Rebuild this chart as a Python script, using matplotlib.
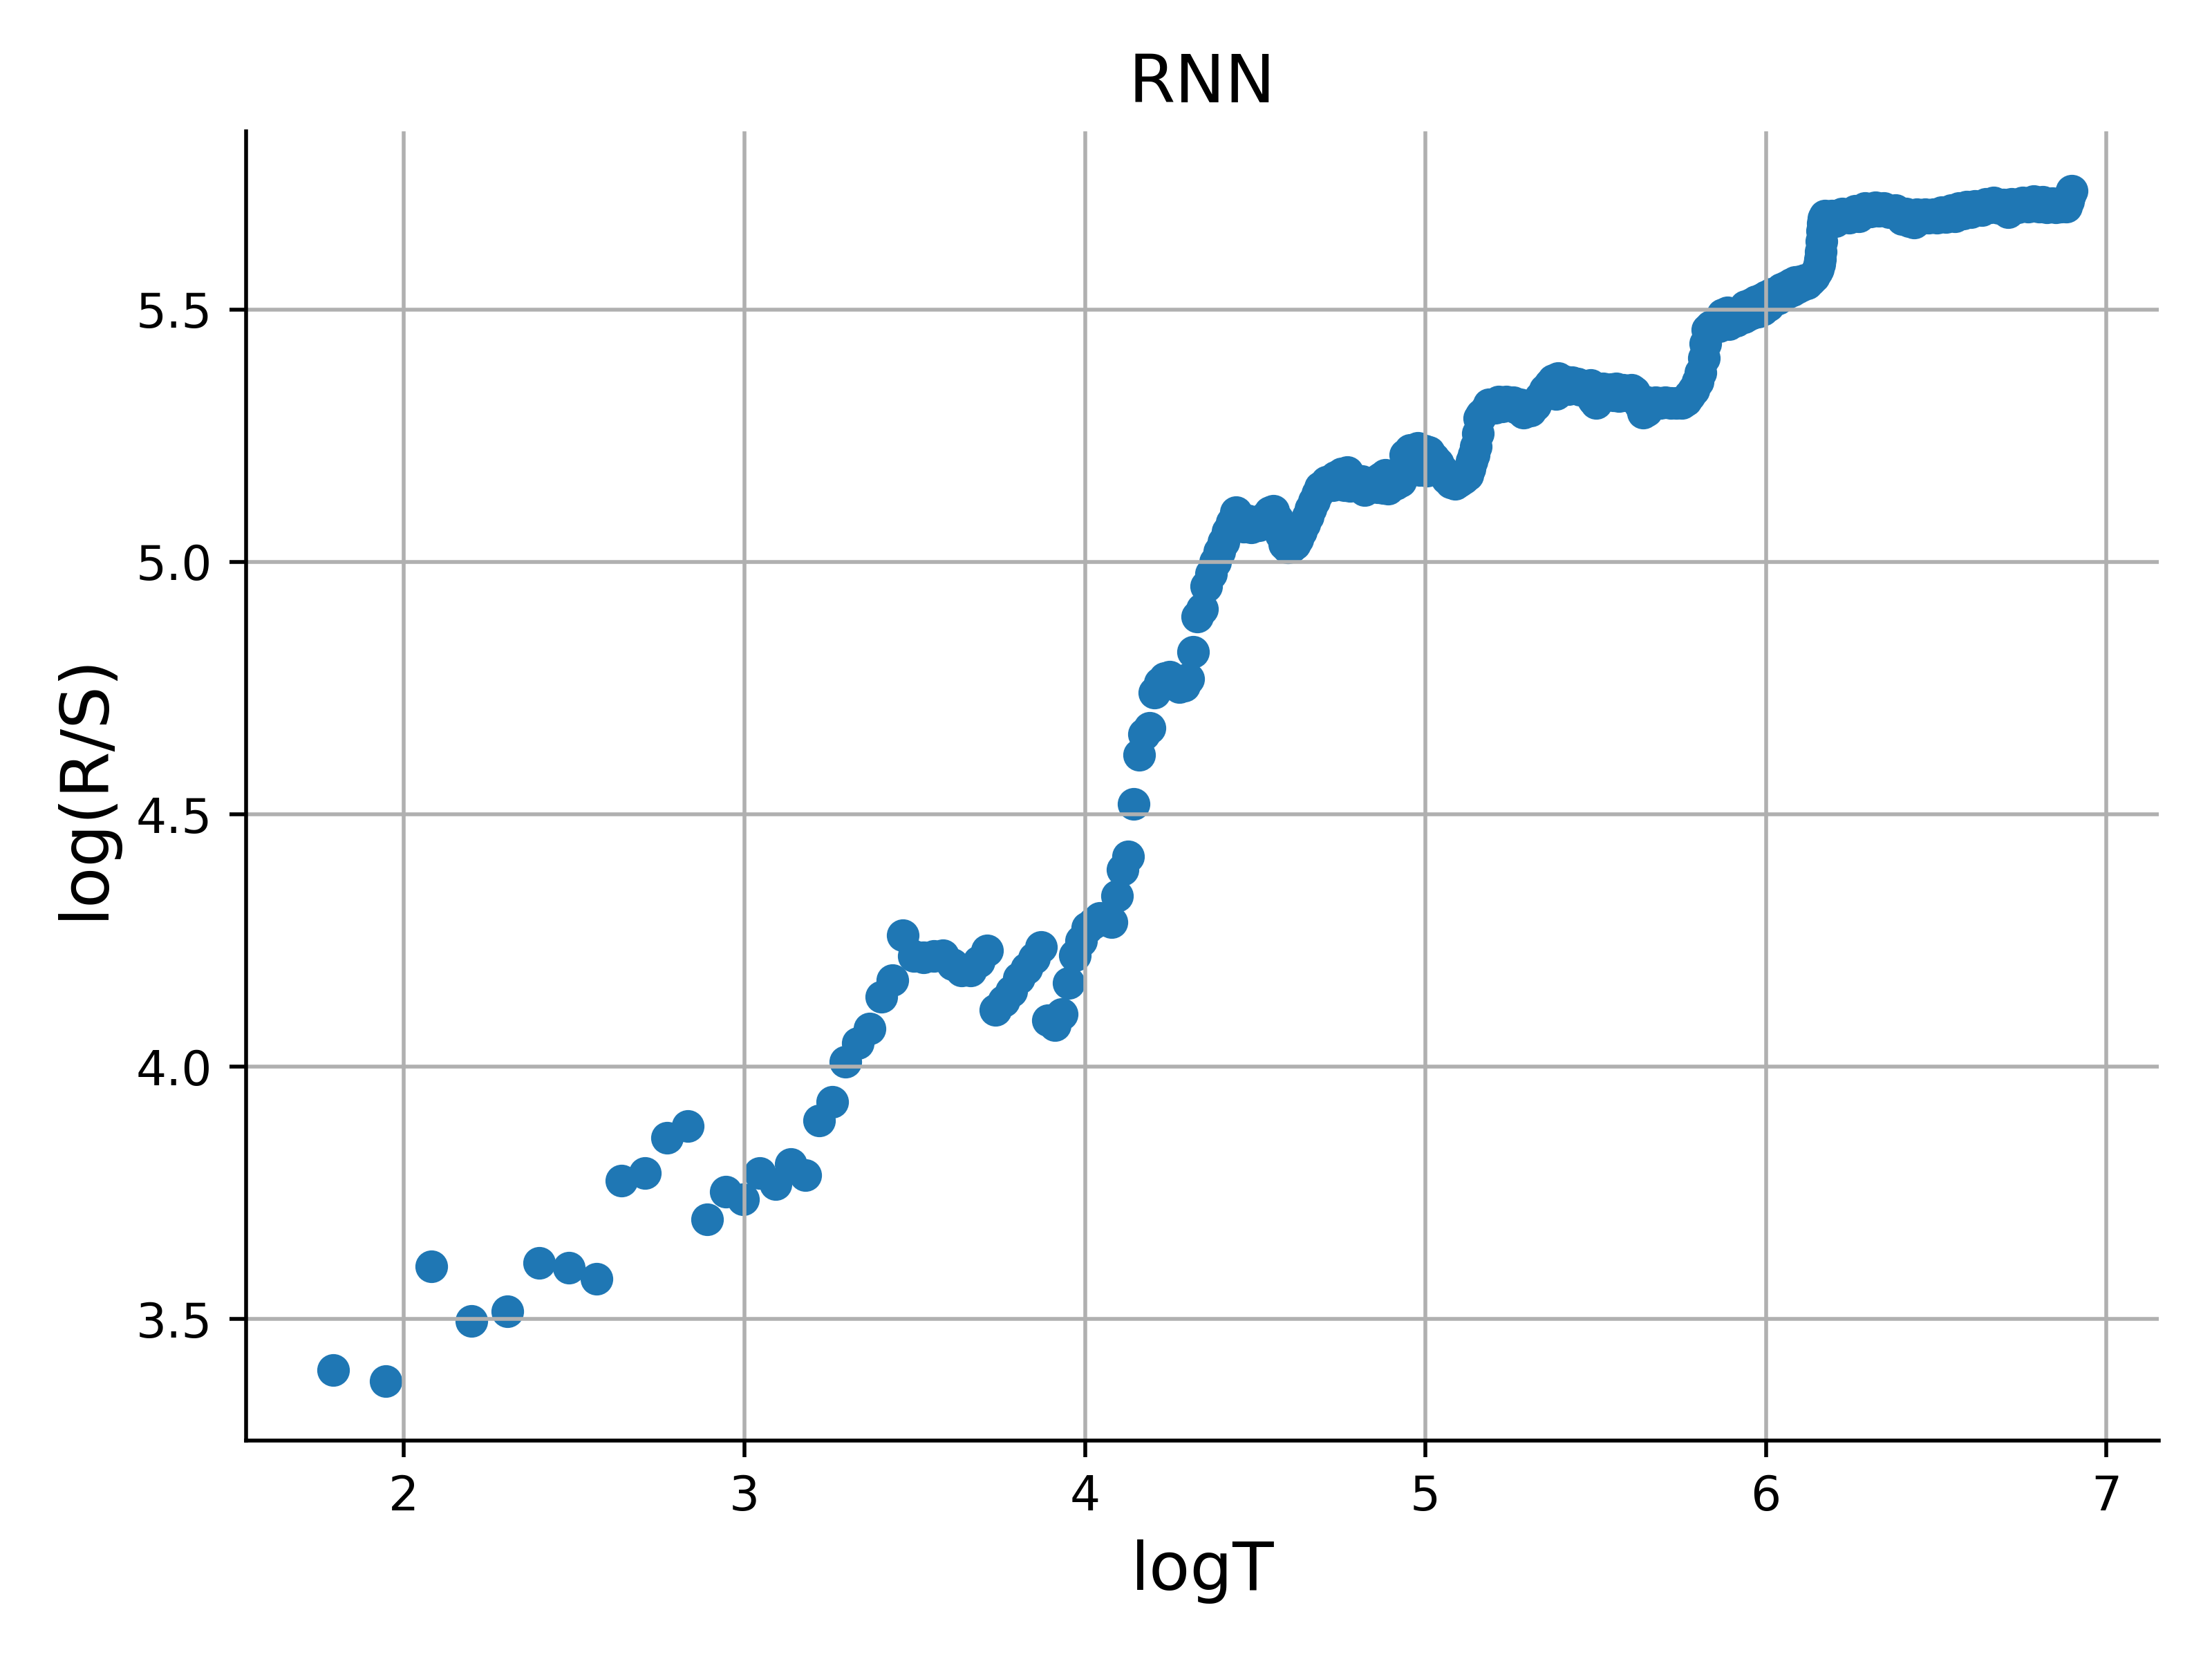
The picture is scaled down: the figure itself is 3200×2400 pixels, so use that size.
import numpy as np
import matplotlib
matplotlib.use("Agg")
import matplotlib.pyplot as plt

# === Данные: длина окна T и log(R/S) ===
T = [6, 7, 8, 9, 10, 11, 12, 13, 14, 15,
     16, 17, 18, 19, 20, 21, 22, 23, 24, 25,
     26, 27, 28, 29, 30, 31, 32, 33, 34, 35,
     36, 37, 38, 39, 40, 41, 42, 43, 44, 45,
     46, 47, 48, 49, 50, 51, 52, 53, 54, 55,
     56, 57, 58, 59, 60, 61, 62, 63, 64, 65,
     66, 67, 68, 69, 70, 71, 72, 73, 74, 75,
     76, 77, 78, 79, 80, 81, 82, 83, 84, 85,
     86, 87, 88, 89, 90, 91, 92, 94, 95, 96,
     97, 98, 99, 100, 101, 102, 103, 104, 105, 106,
     107, 108, 109, 110, 111, 112, 113, 114, 115, 116,
     117, 118, 119, 120, 122, 123, 124, 126, 128, 129,
     130, 131, 132, 133, 134, 136, 138, 139, 140, 141,
     142, 143, 145, 146, 148, 149, 150, 151, 152, 154,
     156, 158, 160, 162, 164, 166, 168, 169, 170, 171,
     172, 173, 174, 175, 177, 179, 182, 184, 186, 188,
     190, 192, 194, 196, 198, 200, 202, 205, 208, 211,
     214, 216, 218, 219, 220, 221, 222, 224, 226, 228,
     230, 232, 234, 238, 240, 241, 243, 245, 248, 250,
     252, 256, 258, 260, 262, 265, 268, 272, 274, 276,
     278, 280, 281, 283, 284, 288, 292, 296, 300, 305,
     310, 315, 319, 322, 326, 330, 333, 336, 338, 340,
     343, 346, 350, 352, 355, 357, 360, 362, 366, 370,
     374, 378, 380, 382, 386, 388, 392, 394, 398, 400,
     404, 406, 410, 412, 416, 418, 422, 424, 428, 430,
     434, 436, 440, 442, 446, 448, 452, 455, 460, 464,
     468, 470, 472, 473, 474, 475, 476, 477, 478, 480,
     485, 490, 495, 505, 515, 525, 530, 540, 548, 556,
     562, 570, 580, 590, 602, 608, 615, 623, 628, 636,
     644, 650, 660, 666, 676, 684, 695, 703, 712, 720,
     727, 737, 745, 760, 770, 780, 788, 800, 810, 821,
     830, 845, 858, 872, 885, 900, 910, 921, 935, 945,
     959, 965, 975, 980, 985, 990]

log_rs = [3.400, 3.378, 3.605, 3.497, 3.516, 3.612, 3.602, 3.580, 3.774, 3.790,
          3.859, 3.883, 3.698, 3.753, 3.737, 3.789, 3.768, 3.808, 3.785, 3.894,
          3.930, 4.010, 4.047, 4.075, 4.139, 4.172, 4.260, 4.219, 4.217, 4.219,
          4.221, 4.203, 4.190, 4.190, 4.208, 4.231, 4.112, 4.130, 4.150, 4.175,
          4.195, 4.215, 4.237, 4.092, 4.083, 4.105, 4.166, 4.221, 4.249, 4.276,
          4.285, 4.295, 4.290, 4.286, 4.338, 4.390, 4.416, 4.520, 4.618, 4.659,
          4.671, 4.741, 4.760, 4.770, 4.772, 4.762, 4.752, 4.755, 4.768, 4.822,
          4.892, 4.907, 4.952, 4.977, 5.000, 5.020, 5.040, 5.060, 5.078, 5.098,
          5.085, 5.070, 5.082, 5.068, 5.078, 5.072, 5.085, 5.098, 5.101, 5.085,
          5.055, 5.035, 5.028, 5.030, 5.035, 5.045, 5.060, 5.075, 5.090, 5.105,
          5.120, 5.135, 5.148, 5.152, 5.158, 5.160, 5.152, 5.168, 5.155, 5.175,
          5.152, 5.178, 5.150, 5.165, 5.155, 5.160, 5.142, 5.150, 5.158, 5.148,
          5.165, 5.146, 5.172, 5.145, 5.165, 5.155, 5.160, 5.185, 5.212, 5.190,
          5.222, 5.185, 5.225, 5.182, 5.220, 5.180, 5.218, 5.185, 5.205, 5.195,
          5.180, 5.165, 5.157, 5.155, 5.160, 5.165, 5.172, 5.185, 5.200, 5.212,
          5.228, 5.255, 5.285, 5.292, 5.300, 5.312, 5.305, 5.318, 5.308, 5.318,
          5.310, 5.316, 5.305, 5.312, 5.296, 5.305, 5.300, 5.310, 5.325, 5.340,
          5.352, 5.360, 5.332, 5.364, 5.338, 5.360, 5.341, 5.357, 5.342, 5.355,
          5.345, 5.353, 5.341, 5.348, 5.335, 5.350, 5.322, 5.314, 5.325, 5.343,
          5.332, 5.342, 5.330, 5.343, 5.328, 5.341, 5.330, 5.341, 5.336, 5.326,
          5.315, 5.305, 5.296, 5.318, 5.300, 5.312, 5.316, 5.315, 5.316, 5.315,
          5.314, 5.314, 5.320, 5.330, 5.341, 5.357, 5.375, 5.403, 5.432, 5.460,
          5.466, 5.468, 5.475, 5.466, 5.490, 5.470, 5.494, 5.471, 5.490, 5.478,
          5.492, 5.485, 5.506, 5.488, 5.510, 5.492, 5.516, 5.496, 5.520, 5.500,
          5.525, 5.508, 5.531, 5.517, 5.532, 5.522, 5.540, 5.528, 5.545, 5.533,
          5.550, 5.538, 5.554, 5.543, 5.556, 5.548, 5.558, 5.552, 5.558, 5.565,
          5.575, 5.580, 5.590, 5.600, 5.615, 5.635, 5.655, 5.670, 5.680, 5.685,
          5.676, 5.686, 5.675, 5.690, 5.682, 5.695, 5.684, 5.700, 5.694, 5.702,
          5.695, 5.701, 5.692, 5.696, 5.679, 5.690, 5.675, 5.672, 5.688, 5.680,
          5.688, 5.682, 5.689, 5.682, 5.692, 5.683, 5.697, 5.684, 5.700, 5.690,
          5.703, 5.693, 5.705, 5.697, 5.709, 5.702, 5.711, 5.700, 5.708, 5.693,
          5.709, 5.702, 5.712, 5.704, 5.714, 5.703, 5.713, 5.702, 5.710, 5.702,
          5.704, 5.708, 5.704, 5.715, 5.725, 5.735]

log_t = np.log(np.array(T, dtype=float))

# === Построение ===
fig = plt.figure(figsize=(6.4, 4.8), dpi=500)
ax = fig.add_axes([0.1113, 0.1318, 0.8645, 0.7891])

ax.scatter(log_t, log_rs, s=36, linewidths=0.8, color="#1f77b4")

ax.set_title("RNN", fontsize=14)
ax.set_xlabel("logT", fontsize=14)
ax.set_ylabel("log(R/S)", fontsize=14)
ax.grid(True)

ax.spines["top"].set_visible(False)
ax.spines["right"].set_visible(False)

fig.savefig("out.png", dpi=500)
